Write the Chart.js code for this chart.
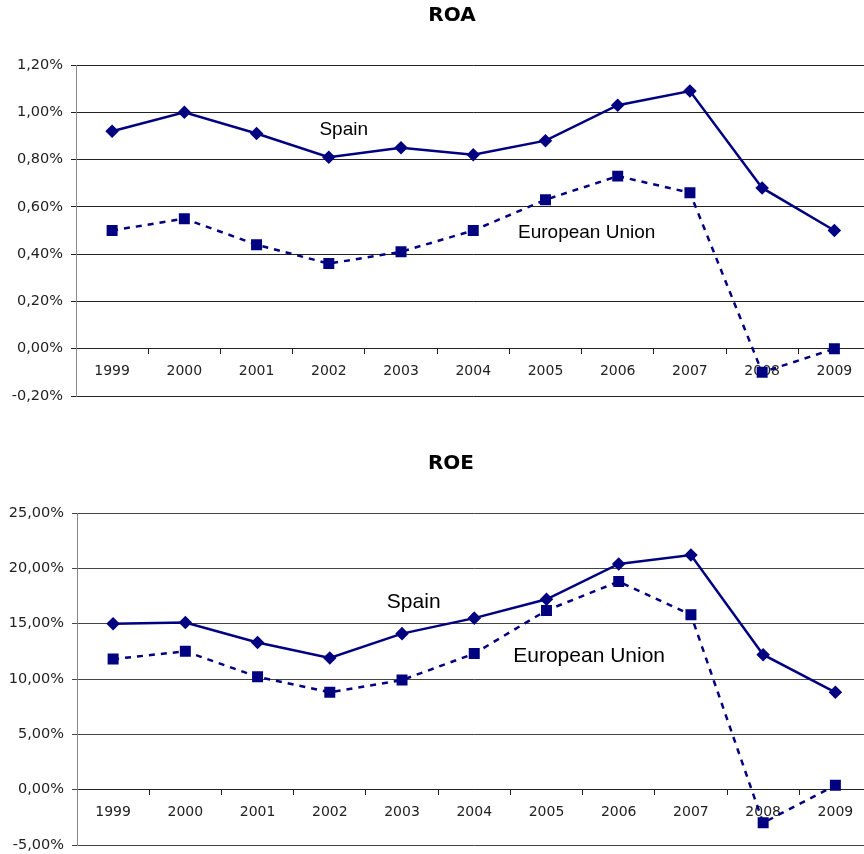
<!DOCTYPE html>
<html>
<head>
<meta charset="utf-8">
<script src="https://cdn.jsdelivr.net/npm/chart.js@4/dist/chart.umd.min.js"></script>
<style>
  body { margin: 0; background: #fff; overflow: hidden; width: 864px; height: 854px; position: relative; }
  canvas { position: absolute; left: 0; }
</style>
</head>
<body>
<canvas id="roa" width="879" height="412" style="top:0"></canvas>
<canvas id="roe" width="880" height="406" style="top:448px"></canvas>
<script>
const years = ['1999', '2000', '2001', '2002', '2003', '2004', '2005', '2006', '2007', '2008', '2009'];

// ROA, %
const roaSpain = [0.92, 1.00, 0.91, 0.81, 0.85, 0.82, 0.88, 1.03, 1.09, 0.68, 0.50];
const roaEU    = [0.50, 0.55, 0.44, 0.36, 0.41, 0.50, 0.63, 0.73, 0.66, -0.10, 0.00];

// ROE, %
const roeSpain = [15.0, 15.1, 13.3, 11.9, 14.1, 15.5, 17.2, 20.4, 21.2, 12.2, 8.8];
const roeEU    = [11.8, 12.5, 10.2, 8.8, 9.9, 12.3, 16.2, 18.8, 15.8, -3.0, 0.4];

const navy = '#000080';

// titles and the two series names written inside the plot
const textPlugin = {
  id: 'chartText',
  afterDraw(chart, args, opts) {
    const ctx = chart.ctx;
    const xs = chart.scales.x, ys = chart.scales.y;
    ctx.save();
    ctx.fillStyle = '#000';
    ctx.font = 'bold 20px "DejaVu Sans"';
    ctx.textAlign = 'center';
    ctx.textBaseline = 'middle';
    ctx.fillText(opts.title, opts.titleX, opts.titleY);
    ctx.font = opts.noteSize + 'px "Liberation Sans"';
    ctx.textAlign = 'left';
    ctx.textBaseline = 'alphabetic';
    opts.notes.forEach(n => {
      ctx.fillText(n.text, xs.getPixelForValue(n.x), ys.getPixelForValue(n.y));
    });
    ctx.restore();
  }
};

function pct(v) {
  if (Math.abs(v) < 1e-9) v = 0;
  return v.toFixed(2).replace('.', ',') + '%';
}

function noPad(s) {
  s.paddingLeft = 0;
  s.paddingRight = 0;
  s.paddingTop = 0;
  s.paddingBottom = 0;
}

function makeChart(id, spain, eu, yMin, yMax, yStep, axisWidth, padBottom, gridColor, text) {
  return new Chart(document.getElementById(id), {
    type: 'line',
    data: {
      labels: years,
      datasets: [
        {
          label: 'Spain',
          data: spain,
          borderColor: navy,
          backgroundColor: navy,
          borderWidth: 2.5,
          pointStyle: 'rectRot',
          pointRadius: 5,
          tension: 0
        },
        {
          label: 'European Union',
          data: eu,
          borderColor: navy,
          backgroundColor: navy,
          borderWidth: 2.5,
          borderDash: [6, 6],
          pointStyle: 'rect',
          pointRadius: 6,
          tension: 0
        }
      ]
    },
    options: {
      responsive: false,
      animation: false,
      layout: { padding: { top: 65, left: 0, right: 0, bottom: padBottom } },
      plugins: {
        legend: { display: false },
        tooltip: { enabled: false },
        chartText: text
      },
      scales: {
        x: {
          type: 'category',
          position: { y: 0 },
          offset: true,
          grid: { drawOnChartArea: false, drawTicks: true, tickLength: 5, color: '#222', offset: true },
          border: { display: true, color: '#222', width: 1 },
          ticks: {
            font: { family: 'DejaVu Sans', size: 14 },
            color: '#222',
            padding: 9,
            maxRotation: 0,
            autoSkip: false
          },
          afterFit: noPad
        },
        y: {
          min: yMin,
          max: yMax,
          ticks: {
            stepSize: yStep,
            callback: v => pct(v),
            font: { family: 'DejaVu Sans', size: 14.5 },
            color: '#222',
            padding: 8
          },
          grid: { color: gridColor, tickLength: 5, drawTicks: true },
          border: { display: true, color: '#888' },
          afterFit: s => { noPad(s); s.width = axisWidth; }
        }
      }
    },
    plugins: [textPlugin]
  });
}

makeChart('roa', roaSpain, roaEU, -0.2, 1.2, 0.2, 76, 16, '#222', {
  title: 'ROA', titleX: 452, titleY: 16, noteSize: 19,
  notes: [
    { text: 'Spain', x: 2.87, y: 0.905 },
    { text: 'European Union', x: 5.62, y: 0.469 }
  ]
});

makeChart('roe', roeSpain, roeEU, -5, 25, 5, 77, 9, '#444', {
  title: 'ROE', titleX: 451, titleY: 16, noteSize: 21,
  notes: [
    { text: 'Spain', x: 3.79, y: 16.46 },
    { text: 'European Union', x: 5.54, y: 11.57 }
  ]
});
</script>
</body>
</html>
